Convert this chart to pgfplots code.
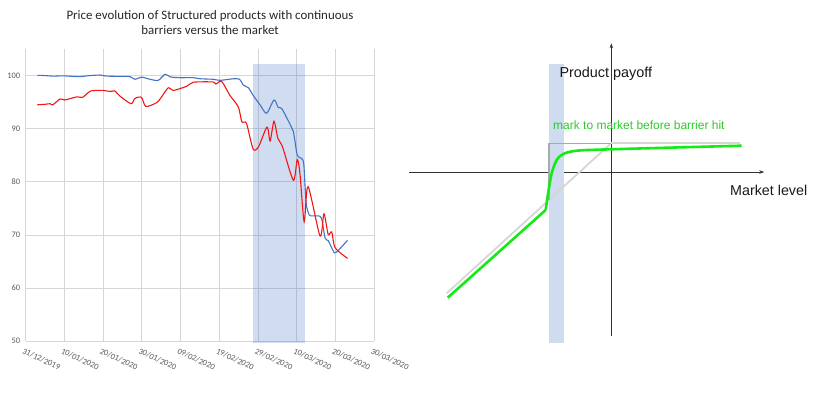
\documentclass[border=0pt]{standalone}
\usepackage{pgfplots}
\pgfplotsset{compat=1.18}
\usepackage{fontspec}
\setmainfont{Carlito}
\newfontfamily\arialf{Liberation Sans}
\usetikzlibrary{arrows.meta}
\definecolor{xlblue}{RGB}{68,114,196}
\definecolor{xlred}{RGB}{245,20,20}
\definecolor{gridg}{RGB}{214,214,214}
\definecolor{lblg}{RGB}{89,89,89}
\definecolor{brightgreen}{RGB}{20,235,20}
\definecolor{txtgreen}{RGB}{45,200,45}
\definecolor{bandblue}{RGB}{207,219,238}
\begin{document}
\begin{tikzpicture}
\path[use as bounding box] (0,0) rectangle (831pt,398pt);
\node[align=center, font=\fontsize{12.9}{15}\selectfont, text=black!85] at (210pt,375.5pt) {Price evolution of Structured products with continuous\\barriers versus the market};
\begin{axis}[
  at={(25.7pt,56.7pt)}, anchor=south west,
  scale only axis, width=348.6pt, height=292.3pt,
  xmin=0, xmax=90, ymin=50, ymax=105,
  xtick={0,10,...,90},
  xticklabels={31/12/2019,10/01/2020,20/01/2020,30/01/2020,09/02/2020,19/02/2020,29/02/2020,10/03/2020,20/03/2020,30/03/2020},
  ytick={50,60,...,100},
  grid=major, grid style={gridg, line width=0.9pt},
  axis line style={draw=none}, tick style={draw=none},
  /pgf/number format/assume math mode=true,
  yticklabel style={font=\fontsize{8.4}{9}\selectfont, text=lblg, xshift=-2pt},
  xticklabel style={font=\fontsize{8.4}{9}\selectfont, text=lblg, rotate=-25, anchor=north west, xshift=-2pt, yshift=-3pt},
  clip=false,
]
\addplot[draw=none, fill=xlblue, fill opacity=0.25] coordinates {(58.7,49.7) (72.1,49.7) (72.1,102.1) (58.7,102.1)} -- cycle;
\addplot[xlblue, line width=1.1pt, smooth, tension=0.45] coordinates {
(3,100.05) (5,100.0) (7,99.9) (9.7,99.95) (12,99.85) (14,99.8) (16.6,100.0) (19.2,100.1) (20.9,99.9) (24,99.85) (26.9,99.8) (28.2,99.3) (29.9,99.7) (32.1,99.3) (34.2,99.1) (36,100.25) (37.3,99.75) (39.8,99.6) (43.3,99.6) (45,99.4) (48.4,99.3) (50.2,99.1) (53.6,99.4) (55.2,99.3) (56.2,98.2) (57.5,97.7) (58.8,96.2) (60.5,94.5) (62.2,92.9) (64.1,95.4) (65.2,94.0) (66.1,93.8) (68.2,90.9) (69.1,89.5) (70.1,85.1) (71.2,84.4) (71.8,83.3) (72.4,76) (73.2,73.8) (74,73.6) (75.5,73.6) (76.4,73.1) (77.3,69.4) (78.1,68.95) (79.4,67) (80.1,66.7) (83.1,69.0)
};
\addplot[xlred, line width=1.1pt, smooth, tension=0.45] coordinates {
(3,94.5) (5,94.6) (6.3,94.7) (7,94.5) (8.9,95.6) (10.1,95.4) (13.2,96.0) (14.7,95.9) (16.8,97.1) (20,97.2) (21.8,97.0) (23,97.1) (24.4,96.1) (27.2,94.7) (28.2,95.7) (29.9,95.9) (31,94.2) (33.8,94.9) (35.1,96.0) (36.8,97.7) (38.1,97.2) (41.6,98.0) (43.3,98.75) (48.4,98.8) (49.1,98.4) (50.6,98.9) (52.7,96.3) (54.9,94.1) (55.8,91.3) (57,91.0) (58.7,86.2) (60.1,86.6) (62.3,90.3) (63.1,87.7) (64.1,91.4) (65.1,88.2) (66.3,86.6) (69.1,80.3) (70.1,84.2) (70.8,81.6) (71.9,72.5) (72.9,79.1) (76,69.8) (77,74.0) (78.1,70.1) (79,70.6) (79.9,67.6) (83.1,65.6)
};
\end{axis}
\begin{axis}[
  at={(409.3pt,62pt)}, anchor=south west,
  scale only axis, width=355pt, height=292.7pt,
  xmin=-202, xmax=153, ymin=-164, ymax=128.7,
  axis lines=middle,
  axis line style={black!80, line width=0.8pt, -{Stealth[length=5pt,width=3.5pt]}},
  xtick=\empty, ytick=\empty,
  clip=false,
]
\addplot[draw=none, fill=bandblue] coordinates {(-62.3,-170.7) (-47.6,-170.7) (-47.6,108) (-62.3,108)} -- cycle;
\addplot[color={rgb,255:red,214;green,214;blue,214}, line width=1.8pt] coordinates {(-164.6,-121.3) (-1.3,27.7)};
\addplot[color={rgb,255:red,214;green,214;blue,214}, line width=1.8pt] coordinates {(0,28.7) (128.7,28.7)};
\addplot[color={rgb,255:red,170;green,170;blue,170}, line width=1.1pt] coordinates {(-62.3,-28) (-62.3,28.7) (0,28.7)};
\addplot[brightgreen, line width=2.6pt] coordinates {(-163.6,-125.7) (-65.6,-38)};
\addplot[brightgreen, line width=2.6pt, smooth, tension=0.5] coordinates {(-65.6,-38) (-63,-20) (-59.6,-1.3) (-54.6,12) (-48,18) (-34.6,21.3) (0,22.7) (130.4,26.3)};
\node[anchor=west, font=\arialf\fontsize{14.4}{16}\selectfont, text=black!90, inner sep=0pt] at (axis cs:-52,98) {Product payoff};
\node[anchor=west, font=\arialf\fontsize{12}{14}\selectfont, text=txtgreen, inner sep=0pt] at (axis cs:-58.3,46.3) {mark to market before barrier hit};
\node[anchor=west, font=\arialf\fontsize{14.3}{16}\selectfont, text=black!90, inner sep=0pt] at (axis cs:118.7,-18.7) {Market level};
\end{axis}
\end{tikzpicture}
\end{document}
